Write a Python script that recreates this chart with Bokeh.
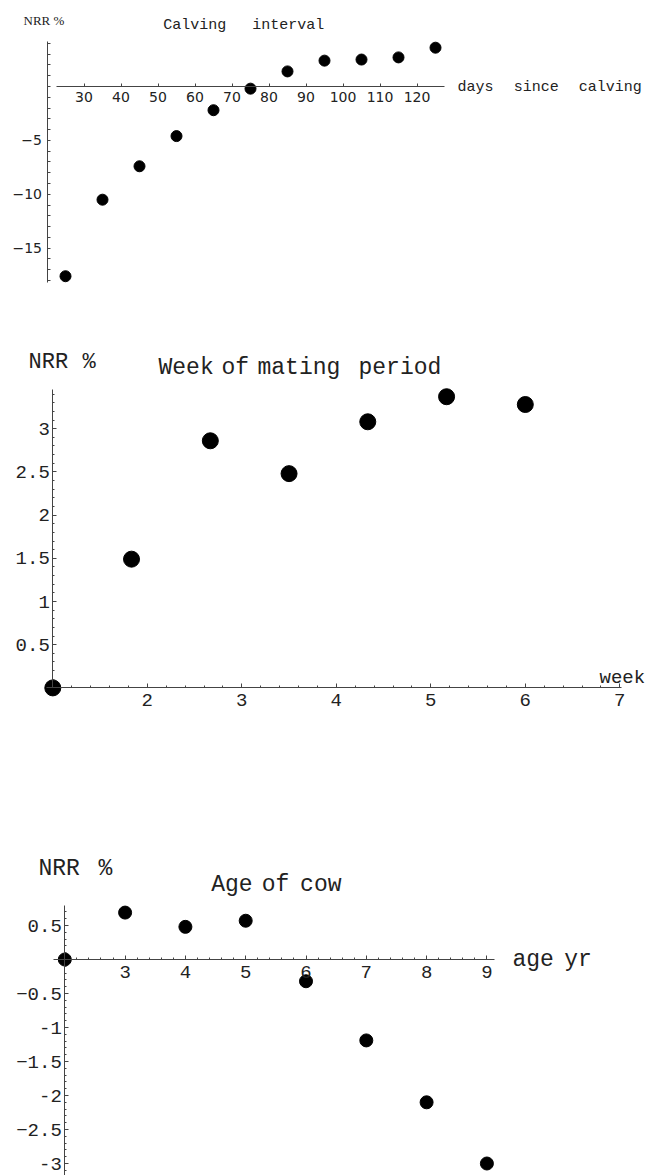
from bokeh.plotting import figure
from bokeh.models import Range1d, LinearAxis, FixedTicker, Label, GlobalInlineStyleSheet
from bokeh.layouts import column
from bokeh.embed import file_html
from bokeh.resources import INLINE
import numpy as np

# ---------------- data ----------------
# Panel 1: calving interval
days = [25, 35, 45, 55, 65, 75, 85, 95, 105, 115, 125]
nrr_days = [-17.6, -10.5, -7.4, -4.6, -2.2, -0.2, 1.4, 2.4, 2.5, 2.7, 3.6]
days_ticks = [30, 40, 50, 60, 70, 80, 90, 100, 110, 120]
nrr1_ticks = [-15, -10, -5]

# Panel 2: week of mating period (x positions)
week_pos = [1.0, 1.833, 2.667, 3.5, 4.333, 5.167, 6.0]
nrr_week = [0.0, 1.49, 2.86, 2.48, 3.08, 3.37, 3.28]
week_ticks = [2, 3, 4, 5, 6, 7]
nrr2_ticks = [0.5, 1, 1.5, 2, 2.5, 3]

# Panel 3: age of cow
age = [2, 3, 4, 5, 6, 7, 8, 9]
nrr_age = [0.0, 0.69, 0.48, 0.57, -0.32, -1.19, -2.10, -3.0]
age_ticks = [3, 4, 5, 6, 7, 8, 9]
nrr3_ticks = [0.5, -0.5, -1, -1.5, -2, -2.5, -3]

MONO = "Liberation Mono"
TXT = "#222222"
AX = "#444444"
W = 645


def page_map(x_ref, px_ref, sx, y_ref_py, sy, top, height):
    left, right = 0, W
    x0 = x_ref + (left - px_ref) / sx
    x1 = x_ref + (right - px_ref) / sx
    y1 = (y_ref_py - top) / sy
    y0 = -(top + height - y_ref_py) / sy

    def conv(px, py):
        return x_ref + (px - px_ref) / sx, (y_ref_py - py) / sy
    return (x0, x1), (y0, y1), conv


def make_fig(xr, yr, height):
    return figure(width=W, height=height, x_range=Range1d(*xr), y_range=Range1d(*yr),
                  x_axis_type=None, y_axis_type=None, toolbar_location=None,
                  output_backend="svg", min_border=0, outline_line_color=None,
                  background_fill_color="white", border_fill_color="white")


def style_axis(ax, font, size, tick_in, minor_in, standoff):
    ax.axis_line_color = AX
    ax.axis_line_width = 1
    ax.major_tick_line_color = AX
    ax.minor_tick_line_color = AX
    ax.major_tick_in = tick_in
    ax.major_tick_out = 0
    ax.minor_tick_in = minor_in
    ax.minor_tick_out = 0
    ax.major_label_text_font = font
    ax.major_label_text_font_size = size
    ax.major_label_text_color = TXT
    ax.major_label_standoff = standoff


def label(p, conv, px, py, text, font, size, color=TXT):
    x, y = conv(px, py)
    p.add_layout(Label(x=x, y=y, text=text, text_font=font, text_font_size=size,
                       text_color=color, text_baseline="middle", text_align="left"))


# ---------------- Panel 1 ----------------
H1 = 300
xr, yr, c1 = page_map(30, 83.5, 3.7, 86, 10.78, 0, H1)
p1 = make_fig(xr, yr, H1)
xa = LinearAxis(fixed_location=0, bounds=(22.5, 127.4),
                ticker=FixedTicker(ticks=days_ticks, minor_ticks=[]))
style_axis(xa, "DejaVu Sans", "14px", 3, 0, 5)
p1.add_layout(xa, "below")
minor1 = [v for v in range(-18, 5) if v not in nrr1_ticks]
ya = LinearAxis(fixed_location=20, bounds=(-18.2, 4.2),
                ticker=FixedTicker(ticks=nrr1_ticks, minor_ticks=minor1))
style_axis(ya, "DejaVu Sans", "14px", 3, 3, 5)
p1.add_layout(ya, "left")
p1.scatter(days, nrr_days, size=11, color="black")
label(p1, c1, 23, 20, "NRR %", "Liberation Serif", "13px")
label(p1, c1, 162.7, 25, "Calving", MONO, "15px")
label(p1, c1, 251.7, 25, "interval", MONO, "15px")
label(p1, c1, 457, 87, "days", MONO, "15px")
label(p1, c1, 513.3, 87, "since", MONO, "15px")
label(p1, c1, 578.2, 87, "calving", MONO, "15px")

# ---------------- Panel 2 ----------------
H2 = 430
xr, yr, c2 = page_map(1, 52.3, 94.5, 687.4, 86.4, 300, H2)
p2 = make_fig(xr, yr, H2)
minor2x = [round(v, 2) for v in np.arange(1.2, 7.01, 0.2) if abs(v - round(v)) > 1e-6]
xa = LinearAxis(fixed_location=0, bounds=(0.93, 7.02),
                ticker=FixedTicker(ticks=week_ticks, minor_ticks=minor2x))
style_axis(xa, MONO, "19px", 4, 2, 6)
p2.add_layout(xa, "below")
minor2y = [round(v, 2) for v in np.arange(0.1, 3.45, 0.1)]
ya = LinearAxis(fixed_location=1, bounds=(0, 3.45),
                ticker=FixedTicker(ticks=nrr2_ticks, minor_ticks=minor2y))
style_axis(ya, MONO, "19px", 4, 2, 3)
ya.major_label_overrides = {1: "1", 2: "2", 3: "3"}
p2.add_layout(ya, "left")
p2.scatter(week_pos, nrr_week, size=16, color="black")
label(p2, c2, 28, 361.7, "NRR", MONO, "22px")
label(p2, c2, 82, 361.7, "%", MONO, "22px")
label(p2, c2, 158, 367.7, "Week", MONO, "23px")
label(p2, c2, 221, 367.7, "of", MONO, "23px")
label(p2, c2, 257, 367.7, "mating", MONO, "23px")
label(p2, c2, 358, 367.7, "period", MONO, "23px")
label(p2, c2, 599, 677, "week", MONO, "19px")

# ---------------- Panel 3 ----------------
H3 = 445
xr, yr, c3 = page_map(2, 64.3, 60.3, 959, 68.0, 730, H3)
p3 = make_fig(xr, yr, H3)
minor3x = [round(v, 2) for v in np.arange(2.2, 9.01, 0.2) if abs(v - round(v)) > 1e-6]
xa = LinearAxis(fixed_location=0, bounds=(1.82, 9.12),
                ticker=FixedTicker(ticks=age_ticks, minor_ticks=minor3x))
style_axis(xa, MONO, "19px", 4, 2, 6)
p3.add_layout(xa, "below")
minor3y = [round(v, 2) for v in np.arange(-3.3, 0.79, 0.1)]
ya = LinearAxis(fixed_location=2, bounds=(-3.4, 0.8),
                ticker=FixedTicker(ticks=nrr3_ticks, minor_ticks=minor3y))
style_axis(ya, MONO, "19px", 4, 2, 3)
ya.major_label_overrides = {-1: "-1", -2: "-2", -3: "-3"}
p3.add_layout(ya, "left")
p3.scatter(age, nrr_age, size=13, color="black")
label(p3, c3, 38, 868, "NRR", MONO, "23px")
label(p3, c3, 98, 868, "%", MONO, "23px")
label(p3, c3, 210.7, 884, "Age", MONO, "23px")
label(p3, c3, 261.3, 884, "of", MONO, "23px")
label(p3, c3, 299.6, 884, "cow", MONO, "23px")
label(p3, c3, 512, 959, "age", MONO, "23px")
label(p3, c3, 563.8, 959, "yr", MONO, "23px")

layout = column(p1, p2, p3, spacing=0,
                stylesheets=[GlobalInlineStyleSheet(css="html, body { overflow: hidden; }")])

open("out.html", "w").write(file_html(layout, INLINE))
